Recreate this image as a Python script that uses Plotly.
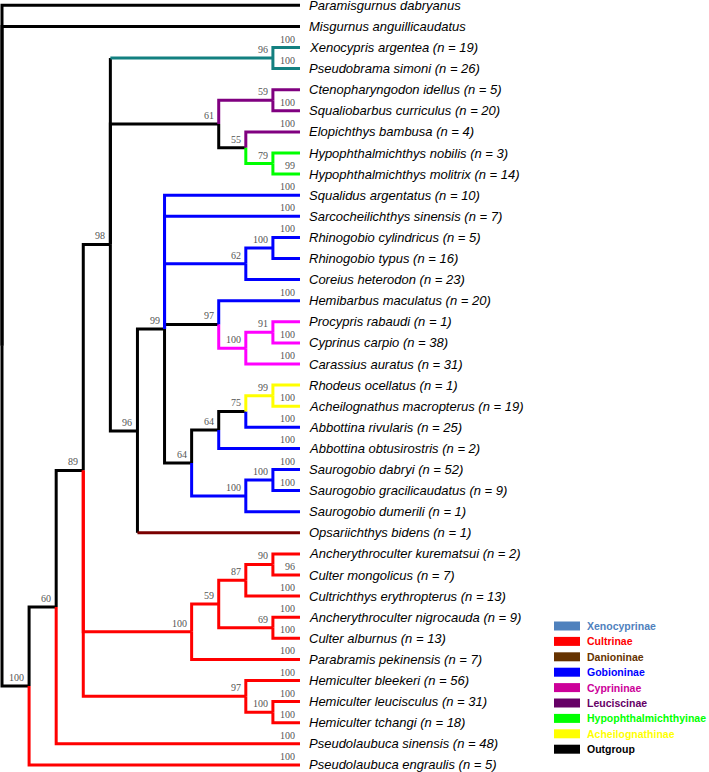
import plotly.graph_objects as go

# ---------------- data ----------------
leaf_names = [
    "Paramisgurnus dabryanus", "Misgurnus anguillicaudatus",
    "Xenocypris argentea", "Pseudobrama simoni",
    "Ctenopharyngodon idellus", "Squaliobarbus curriculus", "Elopichthys bambusa",
    "Hypophthalmichthys nobilis", "Hypophthalmichthys molitrix",
    "Squalidus argentatus", "Sarcocheilichthys sinensis", "Rhinogobio cylindricus",
    "Rhinogobio typus", "Coreius heterodon", "Hemibarbus maculatus",
    "Procypris rabaudi", "Cyprinus carpio", "Carassius auratus",
    "Rhodeus ocellatus", "Acheilognathus macropterus", "Abbottina rivularis",
    "Abbottina obtusirostris", "Saurogobio dabryi", "Saurogobio gracilicaudatus",
    "Saurogobio dumerili", "Opsariichthys bidens",
    "Ancherythroculter kurematsui", "Culter mongolicus", "Cultrichthys erythropterus",
    "Ancherythroculter nigrocauda", "Culter alburnus", "Parabramis pekinensis",
    "Hemiculter bleekeri", "Hemiculter leucisculus", "Hemiculter tchangi",
    "Pseudolaubuca sinensis", "Pseudolaubuca engraulis",
]
leaf_n = [None, None, 19, 26, 5, 20, 4, 3, 14, 10, 7, 5, 16, 23, 20, 1, 38, 31,
          1, 19, 25, 2, 52, 9, 1, 1, 2, 7, 13, 9, 13, 7, 56, 31, 18, 48, 5]
leaf_parent = ["root", "root", "Xen", "Xen", "Leu", "Leu", "H", "Hyp", "Hyp",
               "K", "K", "P", "P", "M", "N", "S", "S", "Q", "W", "W", "V", "T",
               "X", "X", "U", "G", "AB", "AB", "Z", "AA", "AA", "E1", "E2",
               "AC", "AC", "B", "A"]
leaf_support = [None, None, 100, 100, None, 100, 100, None, 99, 100, 100, 100,
                None, None, 100, None, 100, 100, None, 100, 100, 100, 100, 100,
                None, None, None, 96, 100, 100, 100, 100, 100, 100, 100, 100, 100]
leaf_clade = ["out", "out", "xen", "xen", "leu", "leu", "leu", "hyp", "hyp",
              "gob", "gob", "gob", "gob", "gob", "gob", "cyp", "cyp", "cyp",
              "ach", "ach", "gob", "gob", "gob", "gob", "gob", "dan",
              "cul", "cul", "cul", "cul", "cul", "cul", "cul", "cul", "cul",
              "cul", "cul"]
leaf_stem_clade = [c if c != "dan" else "out" for c in leaf_clade]

node_ids = ["root", "A", "B", "C", "D", "Xen", "F", "Leu", "H", "Hyp", "G", "K",
            "M", "P", "N", "Q", "S", "O", "T", "V", "W", "U", "X",
            "E1", "Y", "Z", "AB", "AA", "E2", "AC"]
node_parent = [None, "root", "A", "B", "C", "D", "D", "F", "F", "H", "D", "G",
               "K", "M", "K", "N", "Q", "K", "O", "T", "V", "O", "U",
               "C", "E1", "Y", "Z", "Y", "C", "E2"]
node_level = [0, 1, 2, 3, 4, 10, 8, 10, 9, 10, 5, 6,
              9, 10, 8, 9, 10, 7, 8, 9, 10, 9, 10,
              7, 8, 9, 10, 10, 9, 10]
node_support = [None, 100, 60, 89, 98, 96, 61, 59, 55, 79, 96, 99,
                62, 100, 97, 100, 91, 64, 64, 75, 99, 100, 100,
                100, 59, 87, 90, 69, 97, 100]
node_clade = ["out", "out", "out", "out", "out", "xen", "out", "leu", "out", "hyp",
              "out", "out", "gob", "gob", "out", "cyp", "cyp", "out", "out", "out",
              "ach", "gob", "gob", "cul", "cul", "cul", "cul", "cul", "cul", "cul"]
node_stem_clade = ["out", "out", "out", "out", "out", "out", "out", "leu", "out", "hyp",
                   "out", "out", "gob", "gob", "out", "cyp", "cyp", "out", "out", "out",
                   "ach", "gob", "gob", "cul", "cul", "cul", "cul", "cul", "cul", "cul"]
leaf_level = 11

clade_colors = {"out": "#000000", "xen": "#138080", "leu": "#800080",
                "hyp": "#00FF00", "gob": "#0000FF", "cyp": "#FF00FF",
                "ach": "#FFFF00", "cul": "#FF0000", "dan": "#7A0000"}

legend_labels = ["Xenocyprinae", "Cultrinae", "Danioninae", "Gobioninae",
                 "Cyprininae", "Leuciscinae", "Hypophthalmichthyinae",
                 "Acheilognathinae", "Outgroup"]
legend_colors = ["#4F81BD", "#FF0000", "#663300", "#0000FF", "#CC0099",
                 "#660066", "#00FF00", "#FFFF00", "#000000"]

# ---------------- tree layout ----------------
items = {}
for i, name in enumerate(leaf_names):
    items["leaf%d" % i] = dict(parent=leaf_parent[i], level=leaf_level, y=float(i),
                               support=leaf_support[i], h=leaf_clade[i],
                               v=leaf_stem_clade[i])
for j, nid in enumerate(node_ids):
    items[nid] = dict(parent=node_parent[j], level=node_level[j], y=None,
                      support=node_support[j], h=node_clade[j], v=node_stem_clade[j])

children = {k: [] for k in items}
for k, it in items.items():
    if it["parent"] is not None:
        children[it["parent"]].append(k)

def get_y(k):
    it = items[k]
    if it["y"] is None:
        ys = [get_y(c) for c in children[k]]
        it["y"] = (min(ys) + max(ys)) / 2.0
    return it["y"]

for k in items:
    get_y(k)

segs = {}
def add(color, xs, ys):
    d = segs.setdefault(color, ([], []))
    d[0].extend(xs + [None])
    d[1].extend(ys + [None])

for k, it in items.items():
    p = it["parent"]
    if p is None:
        continue
    par = items[p]
    px, py = par["level"], par["y"]
    cx, cy = it["level"], it["y"]
    hc = clade_colors[it["h"]]
    vc = clade_colors[it["v"]]
    if hc == vc:
        add(hc, [px, px, cx], [py, cy, cy])
    else:
        add(vc, [px, px], [py, cy])
        add(hc, [px, cx], [cy, cy])

fig = go.Figure()
order = ["#000000"] + [c for c in segs if c != "#000000"]
for col in order:
    if col in segs:
        xs, ys = segs[col]
        fig.add_trace(go.Scatter(x=xs, y=ys, mode="lines",
                                 line=dict(color=col, width=3),
                                 hoverinfo="skip", showlegend=False))

annotations = []
# leaf labels
for i, name in enumerate(leaf_names):
    txt = name if leaf_n[i] is None else "%s (n = %d)" % (name, leaf_n[i])
    annotations.append(dict(x=leaf_level, y=i, text="<i>%s</i>" % txt,
                            xanchor="left", yanchor="middle", xshift=7,
                            showarrow=False,
                            font=dict(family="Liberation Sans", size=13, color="#000000")))
# support labels
for k, it in items.items():
    if it["support"] is None:
        continue
    annotations.append(dict(x=it["level"], y=it["y"], text=str(it["support"]),
                            xanchor="right", yanchor="middle", xshift=-3, yshift=8.5,
                            showarrow=False,
                            font=dict(family="Liberation Serif", size=10, color="#555555")))

# legend (colour boxes + coloured names)
W, H = 709, 772
shapes = []
leg_x0, leg_x1, leg_tx = 554, 580, 585
leg_y0, leg_step, box_h = 626, 15.4, 9
for k, (lab, col) in enumerate(zip(legend_labels, legend_colors)):
    yc = leg_y0 + k * leg_step
    shapes.append(dict(type="rect", xref="paper", yref="paper",
                       x0=leg_x0 / W, x1=leg_x1 / W,
                       y0=1 - (yc + box_h / 2) / H, y1=1 - (yc - box_h / 2) / H,
                       fillcolor=col, line=dict(width=0)))
    annotations.append(dict(xref="paper", yref="paper", x=leg_tx / W, y=1 - yc / H,
                            text="<b>%s</b>" % lab, xanchor="left", yanchor="middle",
                            showarrow=False,
                            font=dict(family="Liberation Sans", size=10.5, color=col)))

px_per_level = 27.09
x_lo = -2 / px_per_level
x_hi = x_lo + W / px_per_level
px_per_leaf = 21.1
y_top = -5.3 / px_per_leaf
y_bot = y_top + H / px_per_leaf

fig.update_layout(
    width=W, height=H, margin=dict(l=0, r=0, t=0, b=0),
    paper_bgcolor="white", plot_bgcolor="white", showlegend=False,
    xaxis=dict(range=[x_lo, x_hi], visible=False, fixedrange=True),
    yaxis=dict(range=[y_bot, y_top], visible=False, fixedrange=True),
    annotations=annotations, shapes=shapes,
)

fig.write_html(
    "out.html",
    config={"displayModeBar": False},
    post_script="document.body.style.margin='0';document.body.style.padding='0';"
                "document.documentElement.style.overflow='hidden';",
)
